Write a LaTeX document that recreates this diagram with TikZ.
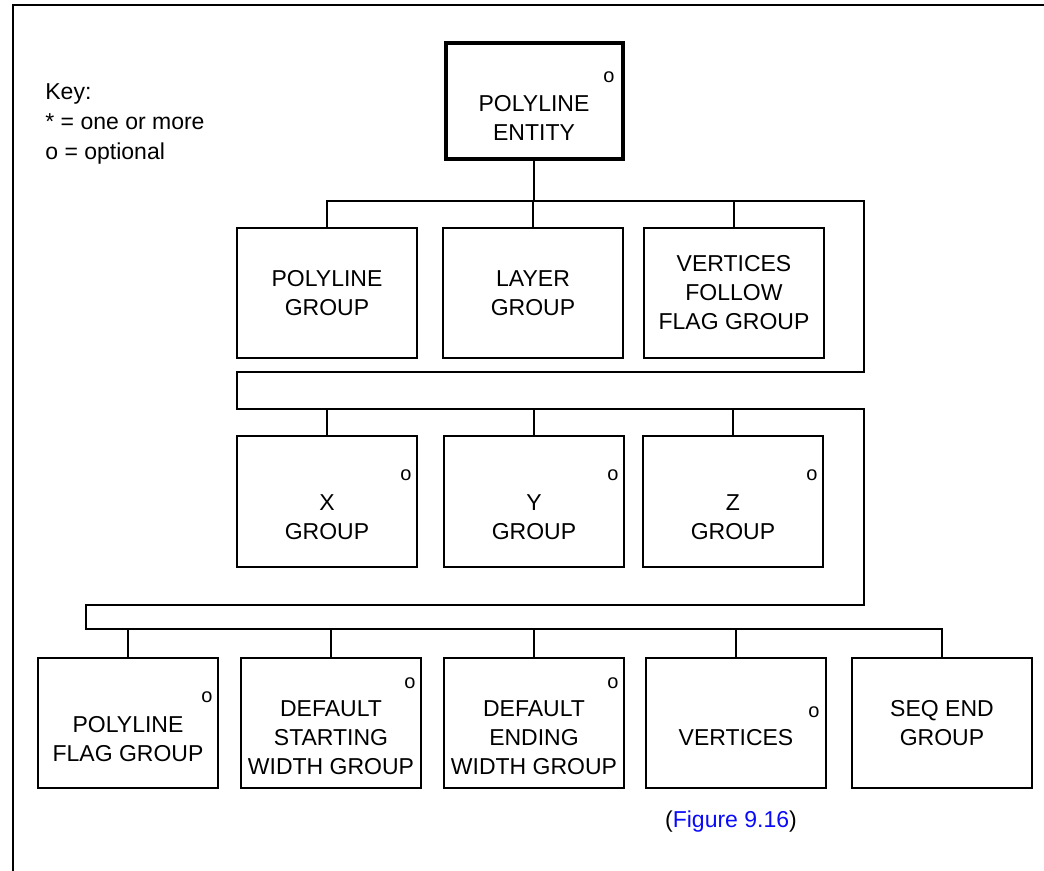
\documentclass[tikz,border=0pt]{standalone}
\usepackage{fontspec}
\setmainfont{Liberation Sans}
\usetikzlibrary{calc}
\definecolor{figblue}{RGB}{10,10,250}
\begin{document}
\begin{tikzpicture}[x=0.5pt,y=-0.5pt,
  box/.style={draw, line width=1pt, inner sep=0pt, minimum width=90pt, minimum height=65pt},
  topbox/.style={box, line width=2pt, minimum width=88.5pt, minimum height=58pt},
  txt/.style={align=center, font=\fontsize{11.5}{14.5}\selectfont, inner sep=0pt},
  opt/.style={font=\fontsize{10}{12}\selectfont, inner sep=0pt},
  keytxt/.style={font=\fontsize{11.5}{14.5}\selectfont, inner sep=0pt, anchor=base west},
  wire/.style={line width=1pt},
  frame/.style={line width=1.4pt}]
\useasboundingbox (0,0) rectangle (1044,871);
% frame
\draw[frame] (13,871) -- (13,5) -- (1044,5);
% key
\node[keytxt] (key1) at (45,100) {Key:};
\node[keytxt] (key2) at (45,130) {* = one or more};
\node[keytxt] (key3) at (45,160) {o = optional};
% top box
\node[topbox] (pe) at (534,101.5) {};
\node[txt] (pet) at ($(pe.center)+(0,16)$) {POLYLINE\\ENTITY};
\node[opt] (peo) at (609,77) {o};
% row 1
\node[box] (pg) at (327,293) {};
\node[txt] (pgt) at (pg.center) {POLYLINE\\GROUP};
\node[box] (lg) at (533,293) {};
\node[txt] (lgt) at (lg.center) {LAYER\\GROUP};
\node[box] (vf) at (734,293) {};
\node[txt] (vft) at (vf.center) {VERTICES\\FOLLOW\\FLAG GROUP};
% row 2
\node[box] (xg) at (327,501.5) {};
\node[txt] (xgt) at ($(xg.center)+(0,16)$) {X\\GROUP};
\node[opt] (xgo) at (406,475) {o};
\node[box] (yg) at (534,501.5) {};
\node[txt] (ygt) at ($(yg.center)+(0,16)$) {Y\\GROUP};
\node[opt] (ygo) at (613,475) {o};
\node[box] (zg) at (733,501.5) {};
\node[txt] (zgt) at ($(zg.center)+(0,16)$) {Z\\GROUP};
\node[opt] (zgo) at (812,475) {o};
% row 3
\node[box] (pf) at (128,723) {};
\node[txt] (pft) at ($(pf.center)+(0,16)$) {POLYLINE\\FLAG GROUP};
\node[opt] (pfo) at (207,697) {o};
\node[box] (ds) at (331,723) {};
\node[txt] (dst) at ($(ds.center)+(0,15)$) {DEFAULT\\STARTING\\WIDTH GROUP};
\node[opt] (dso) at (410,683) {o};
\node[box] (de) at (534,723) {};
\node[txt] (det) at ($(de.center)+(0,15)$) {DEFAULT\\ENDING\\WIDTH GROUP};
\node[opt] (deo) at (613,683) {o};
\node[box] (vx) at (736,723) {};
\node[txt] (vxt) at ($(vx.center)+(0,15)$) {VERTICES};
\node[opt] (vxo) at (814,712) {o};
\node[box] (se) at (942,723) {};
\node[txt] (set) at (se.center) {SEQ END\\GROUP};
% caption
\node[txt] (cap) at (731,822) {(\textcolor{figblue}{Figure 9.16})};
% bus coordinates
\coordinate (bA) at (864,201);
\coordinate (bB) at (864,372);
\coordinate (bC) at (237,372);
\coordinate (bD) at (237,409);
\coordinate (bE) at (864,409);
\coordinate (bF) at (864,605);
\coordinate (bG) at (86,605);
\coordinate (bH) at (86,629);
% connectors
\draw[wire] (pe.south) -- (pe.south |- bA);
\draw[wire] (pg.north) -- (pg.north |- bA) -- (bA) -- (bB) -- (bC) -- (bD) -- (bE) -- (bF) -- (bG) -- (bH) -- (se.north |- bH) -- (se.north);
\draw[wire] (lg.north) -- (lg.north |- bA);
\draw[wire] (vf.north) -- (vf.north |- bA);
\draw[wire] (xg.north) -- (xg.north |- bD);
\draw[wire] (yg.north) -- (yg.north |- bD);
\draw[wire] (zg.north) -- (zg.north |- bD);
\draw[wire] (pf.north) -- (pf.north |- bH);
\draw[wire] (ds.north) -- (ds.north |- bH);
\draw[wire] (de.north) -- (de.north |- bH);
\draw[wire] (vx.north) -- (vx.north |- bH);
\end{tikzpicture}
\end{document}
